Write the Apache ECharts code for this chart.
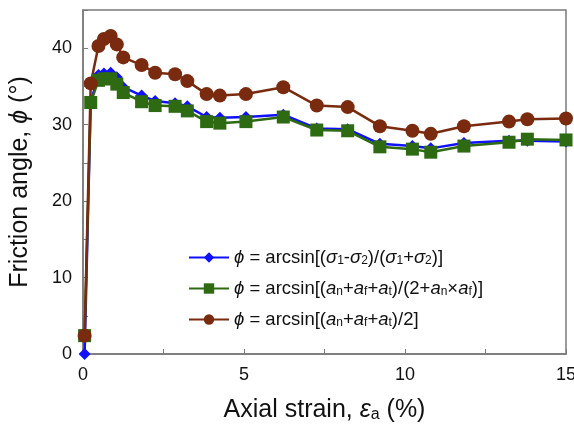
<!DOCTYPE html>
<html>
<head>
<meta charset="utf-8">
<script src="https://cdn.jsdelivr.net/npm/echarts@6/dist/echarts.min.js"></script>
<style>
  html, body { margin: 0; padding: 0; background: #fff; }
  #chart { width: 574px; height: 425px; }
</style>
</head>
<body>
<div id="chart"></div>
<script>
// axial strain (%) for each reading
const strain = [0.05, 0.24, 0.48, 0.65, 0.86, 1.05, 1.25, 1.82, 2.24, 2.86, 3.24, 3.84, 4.25, 5.06,
  6.22, 7.26, 8.22, 9.22, 10.23, 10.8, 11.83, 13.23, 13.8, 15.0];
// friction angle, three formulas
const phiSigma = [0, 33.0, 36.5, 36.7, 36.8, 36.2, 34.9, 33.8, 33.1, 32.8, 32.4, 31.0, 30.9, 31.0,
  31.3, 29.5, 29.4, 27.5, 27.2, 26.9, 27.6, 27.9, 27.9, 27.8];
const phiAnAf = [2.4, 32.9, 35.8, 36.0, 36.0, 35.3, 34.2, 33.0, 32.5, 32.4, 31.8, 30.4, 30.2, 30.4,
  31.0, 29.3, 29.2, 27.1, 26.8, 26.4, 27.2, 27.7, 28.1, 28.0];
const phiHalf = [2.4, 35.4, 40.3, 41.2, 41.6, 40.5, 38.8, 37.8, 36.8, 36.6, 35.7, 34.0, 33.8, 34.0,
  34.9, 32.5, 32.3, 29.8, 29.2, 28.8, 29.8, 30.4, 30.7, 30.8];

const legendNames = [
  '{i|ϕ} = arcsin[({i|σ}{s|1}-{i|σ}{s|2})/({i|σ}{s|1}+{i|σ}{s|2})]',
  '{i|ϕ} = arcsin[({i|a}{s|n}+{i|a}{s|f}+{i|a}{s|t})/(2+{i|a}{s|n}×{i|a}{s|f})]',
  '{i|ϕ} = arcsin[({i|a}{s|n}+{i|a}{s|f}+{i|a}{s|t})/2]'
];

const pair = (ys) => strain.map((x, i) => [x, ys[i]]);

const font = 'Liberation Sans, Arial, sans-serif';
const axisGrey = '#7a7a7a';

const chart = echarts.init(document.getElementById('chart'));
chart.setOption({
  animation: false,
  grid: {
    left: 83, right: 8, top: 10, bottom: 71,
    outerBoundsMode: 'none',
    show: true, borderColor: axisGrey, borderWidth: 1.5
  },
  legend: {
    orient: 'vertical',
    left: 183, top: 243,
    itemWidth: 40, itemHeight: 13, itemGap: 12,
    textStyle: {
      fontFamily: font, fontSize: 18.5, color: '#111',
      rich: {
        i: { fontStyle: 'italic', fontFamily: font, fontSize: 18.5, color: '#111' },
        s: { fontFamily: font, fontSize: 12, color: '#111', verticalAlign: 'bottom', lineHeight: 13 }
      }
    },
    data: legendNames
  },
  xAxis: {
    type: 'value', min: 0, max: 15, interval: 5,
    name: 'Axial strain, {i|ε}{s|a} (%)',
    nameLocation: 'middle', nameGap: 44,
    nameTextStyle: {
      fontFamily: font, fontSize: 25, color: '#111',
      rich: {
        i: { fontStyle: 'italic', fontFamily: font, fontSize: 25, color: '#111' },
        s: { fontFamily: font, fontSize: 16, color: '#111', verticalAlign: 'bottom', lineHeight: 17 }
      }
    },
    axisLine: { onZero: false, lineStyle: { color: axisGrey, width: 1.5 } },
    axisTick: { inside: true, length: 5, lineStyle: { color: axisGrey } },
    minorTick: { show: true, splitNumber: 2, length: 5, lineStyle: { color: axisGrey } },
    axisLabel: { fontFamily: font, fontSize: 18, color: '#111', margin: 12 },
    splitLine: { show: false }
  },
  yAxis: {
    type: 'value', min: 0, max: 45, interval: 10,
    name: 'Friction angle, {i|ϕ} (°)',
    nameLocation: 'middle', nameGap: 50, nameRotate: 90,
    nameTextStyle: {
      fontFamily: font, fontSize: 25, color: '#111',
      rich: {
        i: { fontStyle: 'italic', fontFamily: font, fontSize: 25, color: '#111' }
      }
    },
    axisLine: { lineStyle: { color: axisGrey, width: 1.5 } },
    axisTick: { inside: true, length: 5, lineStyle: { color: axisGrey } },
    minorTick: { show: true, splitNumber: 2, length: 5, lineStyle: { color: axisGrey } },
    axisLabel: { fontFamily: font, fontSize: 18, color: '#111', margin: 11, showMaxLabel: false },
    splitLine: { show: false }
  },
  series: [
    {
      name: legendNames[0], type: 'line', data: pair(phiSigma),
      symbol: 'diamond', symbolSize: 12,
      itemStyle: { color: '#1010ff' },
      lineStyle: { color: '#1010ff', width: 2.5 }
    },
    {
      name: legendNames[1], type: 'line', data: pair(phiAnAf),
      symbol: 'rect', symbolSize: 13,
      itemStyle: { color: '#2e6a12' },
      lineStyle: { color: '#2e6a12', width: 2.5 }
    },
    {
      name: legendNames[2], type: 'line', data: pair(phiHalf),
      symbol: 'circle', symbolSize: 14,
      itemStyle: { color: '#7a2a0e' },
      lineStyle: { color: '#7a2a0e', width: 2.5 }
    }
  ]
});
</script>
</body>
</html>
